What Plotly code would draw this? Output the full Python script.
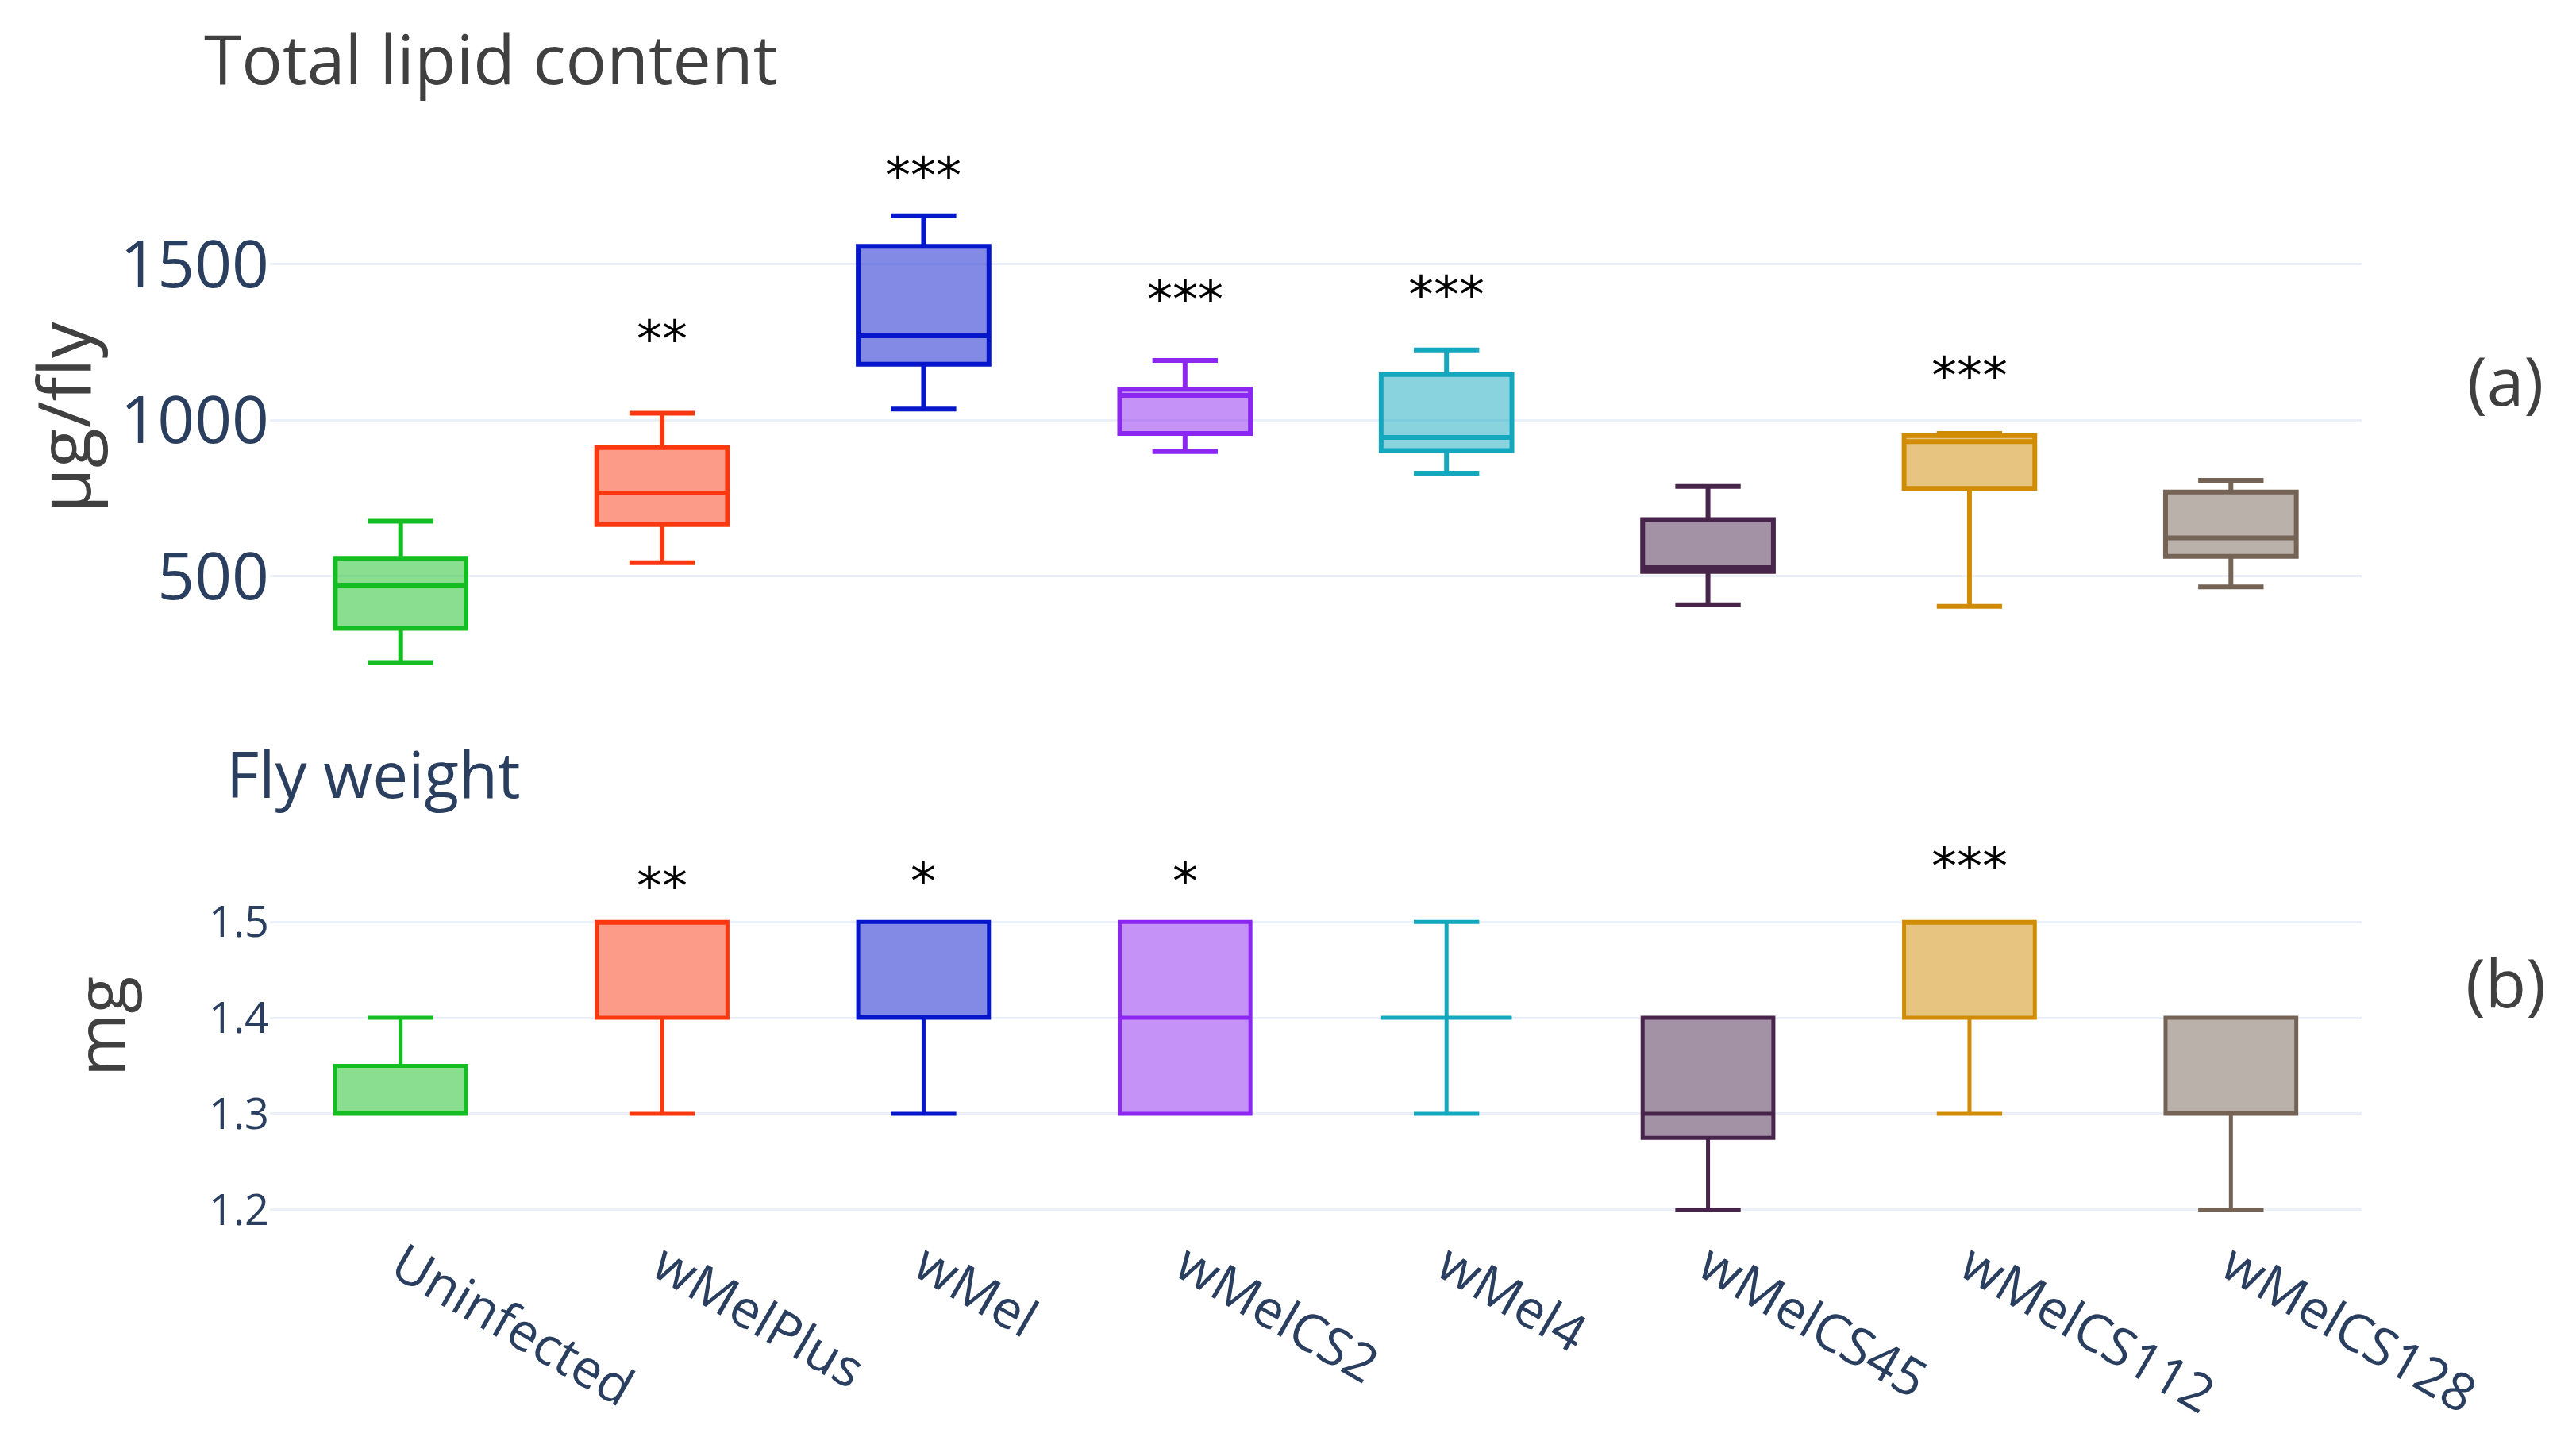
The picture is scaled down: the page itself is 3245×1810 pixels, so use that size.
import plotly.graph_objects as go

# ---------------- data ----------------
strains = ["Uninfected", "wMelPlus", "wMel", "wMelCS2", "wMel4",
           "wMelCS45", "wMelCS112", "wMelCS128"]
colors = ["#14BD22", "#F9380F", "#0616CB", "#8B27F0", "#14A8BF",
          "#47254B", "#D08C04", "#756355"]

# Total lipid content (µg/fly)
lipid_lower = [224, 544, 1036, 900, 831, 409, 404, 466]
lipid_q1 = [333, 666, 1180, 958, 903, 516, 782, 564]
lipid_median = [472, 767, 1271, 1080, 945, 528, 932, 623]
lipid_q3 = [558, 913, 1558, 1100, 1147, 682, 951, 770]
lipid_upper = [677, 1023, 1656, 1192, 1226, 788, 958, 808]
lipid_sig = ["", "**", "***", "***", "***", "", "***", ""]
lipid_sig_y = [None, 1266, 1790, 1393, 1408, None, 1149, None]

# Fly weight (mg)
weight_lower = [1.30, 1.30, 1.30, 1.30, 1.30, 1.20, 1.30, 1.20]
weight_q1 = [1.30, 1.40, 1.40, 1.30, 1.40, 1.275, 1.40, 1.30]
weight_median = [1.30, 1.50, 1.40, 1.40, 1.40, 1.30, 1.50, 1.30]
weight_q3 = [1.35, 1.50, 1.50, 1.50, 1.40, 1.40, 1.50, 1.40]
weight_upper = [1.40, 1.50, 1.50, 1.50, 1.50, 1.40, 1.50, 1.40]
weight_sig = ["", "**", "*", "*", "", "", "***", ""]
weight_sig_y = [None, 1.539, 1.544, 1.544, None, None, 1.560, None]

lipid_ticks = [500, 1000, 1500]
weight_ticks = [1.2, 1.3, 1.4, 1.5]
lipid_range = [150, 1730]
weight_range = [1.185, 1.515]

# ---------------- layout geometry (pixels) ----------------
W, H = 3245, 1810
L, R, T, B = 332, 2967, 200, 1560


def px_x(px):
    return (px - L) / (R - L)


def px_y(py):
    return (B - py) / (B - T)


dom_top = [px_y(855.5), px_y(234.6)]
dom_bot = [px_y(1534), px_y(1135)]


def data_to_paper(v, rng, dom):
    return dom[0] + (v - rng[0]) / (rng[1] - rng[0]) * (dom[1] - dom[0])


fig = go.Figure()

for i, s in enumerate(strains):
    fig.add_trace(go.Box(
        x=[s], q1=[lipid_q1[i]], median=[lipid_median[i]], q3=[lipid_q3[i]],
        lowerfence=[lipid_lower[i]], upperfence=[lipid_upper[i]],
        name=s, marker_color=colors[i], line=dict(color=colors[i], width=6),
        boxpoints=False, showlegend=False, xaxis="x", yaxis="y",
        width=0.5, whiskerwidth=0.5))
    fig.add_trace(go.Box(
        x=[s], q1=[weight_q1[i]], median=[weight_median[i]], q3=[weight_q3[i]],
        lowerfence=[weight_lower[i]], upperfence=[weight_upper[i]],
        name=s, marker_color=colors[i], line=dict(color=colors[i], width=5),
        boxpoints=False, showlegend=False, xaxis="x2", yaxis="y2",
        width=0.5, whiskerwidth=0.5))

annotations = []
star_font = dict(family="DejaVu Sans", size=64, color="black")
for i, s in enumerate(strains):
    if lipid_sig[i]:
        annotations.append(dict(x=s, xref="x", yref="paper",
                                y=data_to_paper(lipid_sig_y[i], lipid_range, dom_top),
                                text=lipid_sig[i], showarrow=False,
                                font=star_font, yanchor="middle", yshift=-2))
    if weight_sig[i]:
        annotations.append(dict(x=s, xref="x2", yref="paper",
                                y=data_to_paper(weight_sig_y[i], weight_range, dom_bot),
                                text=weight_sig[i], showarrow=False,
                                font=star_font, yanchor="middle", yshift=-2))

dark = "#404040"
annotations += [
    dict(text="Total lipid content", x=px_x(610), y=px_y(4), xref="paper", yref="paper",
         showarrow=False, font=dict(family="Open Sans", size=86, color=dark),
         xanchor="center", yanchor="top"),
    dict(text="Fly weight", x=px_x(462), y=px_y(965), xref="paper", yref="paper",
         showarrow=False, font=dict(family="Open Sans", size=80, color="#2a3f5f"),
         xanchor="center", yanchor="middle"),
    dict(text="(a)", x=px_x(3148), y=px_y(471), xref="paper", yref="paper",
         showarrow=False, font=dict(family="Open Sans", size=84, color=dark),
         xanchor="center", yanchor="middle"),
    dict(text="(b)", x=px_x(3148), y=px_y(1228), xref="paper", yref="paper",
         showarrow=False, font=dict(family="Open Sans", size=84, color=dark),
         xanchor="center", yanchor="middle"),
    dict(text="µg/fly", x=px_x(70), y=px_y(517), xref="paper", yref="paper",
         showarrow=False, textangle=-90, font=dict(family="Open Sans", size=92, color=dark),
         xanchor="center", yanchor="middle"),
    dict(text="mg", x=px_x(116), y=px_y(1285), xref="paper", yref="paper",
         showarrow=False, textangle=-90, font=dict(family="Open Sans", size=86, color=dark),
         xanchor="center", yanchor="middle"),
]

grid = "#EBF0F8"
fig.update_layout(
    width=W, height=H,
    template="plotly_white",
    paper_bgcolor="white", plot_bgcolor="white",
    margin=dict(l=L, r=W - R, t=T, b=H - B, autoexpand=False),
    boxmode="overlay",
    font=dict(family="Open Sans", color="#2a3f5f"),
    xaxis=dict(domain=[0, 1], anchor="y", type="category",
               categoryorder="array", categoryarray=strains,
               range=[-0.5, 7.5], showticklabels=False, showgrid=False,
               zeroline=False, showline=False, automargin=False),
    yaxis=dict(domain=dom_top, anchor="x",
               range=lipid_range, tickvals=lipid_ticks,
               tickfont=dict(size=82, color="#2a3f5f"),
               gridcolor=grid, gridwidth=3, zeroline=False, automargin=False),
    xaxis2=dict(domain=[0, 1], anchor="y2", type="category",
                categoryorder="array", categoryarray=strains,
                range=[-0.5, 7.5], tickangle=30, showgrid=False,
                tickfont=dict(size=66, color="#2a3f5f"),
                zeroline=False, showline=False, automargin=False),
    yaxis2=dict(domain=dom_bot, anchor="x2",
                range=weight_range, tickvals=weight_ticks,
                ticktext=[str(v) for v in weight_ticks],
                tickfont=dict(size=54, color="#2a3f5f"),
                gridcolor=grid, gridwidth=3, zeroline=False, automargin=False),
    annotations=annotations,
)

fig.write_html("out.html")
